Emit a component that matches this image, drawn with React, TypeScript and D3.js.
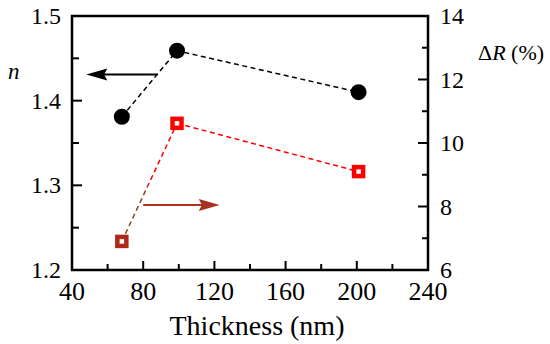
import React from 'react';
import * as d3 from 'd3';

// thickness (nm) and measured values
const thickness = [68, 99, 201];
const nValues = [1.381, 1.459, 1.41];
const dRValues = [6.9, 10.62, 9.1];

const xTicks = [40, 80, 120, 160, 200, 240];
const xMinor = [60, 100, 140, 180, 220];
const nTicks = [1.2, 1.3, 1.4, 1.5];
const nMinor = [1.25, 1.35, 1.45];
const rTicks = [6, 8, 10, 12, 14];
const rMinor = [7, 9, 11, 13];

// arrow annotations [x0, x1, y] in data units
const nArrow = [88, 48, 1.431];
const rArrow = [80, 123, 8.05];

const W = 550;
const H = 344;
const margin = { left: 72, right: 122, top: 16, bottom: 74 };
const font = 'Liberation Serif';

const App = () => {
  const x = d3.scaleLinear().domain([40, 240]).range([margin.left, W - margin.right]);
  const yN = d3.scaleLinear().domain([1.2, 1.5]).range([H - margin.bottom, margin.top]);
  const yR = d3.scaleLinear().domain([6, 14]).range([H - margin.bottom, margin.top]);

  const x0 = x.range()[0];
  const x1 = x.range()[1];
  const yb = yN.range()[0];
  const yt = yN.range()[1];

  const nLine = d3.line<number>().x((d, i) => x(thickness[i])).y(d => yN(d));
  const rLine = d3.line<number>().x((d, i) => x(thickness[i])).y(d => yR(d));
  const rLine2 = d3.line<number>().x((d, i) => x(thickness[i + 1])).y(d => yR(d));

  const arrowHead = (tipX: number, y: number, dir: number, len: number, half: number) =>
    `M${tipX},${y}L${tipX - dir * len},${y - half}L${tipX - dir * len * 0.85},${y}L${tipX - dir * len},${y + half}Z`;

  const nAy = yN(nArrow[2]);
  const rAy = yR(rArrow[2]);
  const txt = { fontFamily: font };

  return (
    <svg width={W} height={H} style={{ position: 'absolute', left: 0, top: 0, background: '#fff', fontFamily: font }}>
      <defs>
        <linearGradient id="redfade" x1="0" y1="1" x2="0" y2="0">
          <stop offset="0" stopColor="#7a4a1a" />
          <stop offset="0.35" stopColor="#8a4020" />
          <stop offset="0.6" stopColor="#ff0000" />
          <stop offset="1" stopColor="#ff0000" />
        </linearGradient>
      </defs>

      {/* frame */}
      <rect x={x0} y={yt} width={x1 - x0} height={yb - yt} fill="none" stroke="#000" strokeWidth={2.5} />

      {/* x ticks */}
      {xTicks.map(t => (
        <g key={'xt' + t}>
          <line x1={x(t)} x2={x(t)} y1={yb} y2={yb - 9} stroke="#000" strokeWidth={2} />
          <text x={x(t)} y={yb + 30} textAnchor="middle" fontSize={26} style={txt}>{t}</text>
        </g>
      ))}
      {xMinor.map(t => (
        <line key={'xm' + t} x1={x(t)} x2={x(t)} y1={yb} y2={yb - 6} stroke="#000" strokeWidth={2} />
      ))}

      {/* left axis n */}
      {nTicks.map(t => (
        <g key={'nt' + t}>
          <line x1={x0} x2={x0 + 10} y1={yN(t)} y2={yN(t)} stroke="#000" strokeWidth={2} />
          <text x={x0 - 11} y={yN(t) + 8} textAnchor="end" fontSize={24} style={txt}>{t.toFixed(1)}</text>
        </g>
      ))}
      {nMinor.map(t => (
        <line key={'nm' + t} x1={x0} x2={x0 + 7} y1={yN(t)} y2={yN(t)} stroke="#000" strokeWidth={2} />
      ))}

      {/* right axis dR */}
      {rTicks.map(t => (
        <g key={'rt' + t}>
          <line x1={x1} x2={x1 - 10} y1={yR(t)} y2={yR(t)} stroke="#000" strokeWidth={2} />
          <text x={x1 + 12} y={yR(t) + 8} textAnchor="start" fontSize={24} style={txt}>{t}</text>
        </g>
      ))}
      {rMinor.map(t => (
        <line key={'rm' + t} x1={x1} x2={x1 - 6} y1={yR(t)} y2={yR(t)} stroke="#000" strokeWidth={2} />
      ))}

      {/* axis titles */}
      <text x={8} y={79} fontSize={23} fontStyle="italic" style={txt}>n</text>
      <text x={478} y={60} fontSize={22} style={txt}>
        Δ<tspan fontStyle="italic">R</tspan> (%)
      </text>
      <text x={(x0 + x1) / 2 + 7} y={335} textAnchor="middle" fontSize={28} style={txt}>Thickness (nm)</text>

      {/* dashed lines */}
      <path d={nLine(nValues) || ''} fill="none" stroke="#000" strokeWidth={1.5} strokeDasharray="5,3.5" />
      <path d={rLine(dRValues.slice(0, 2)) || ''} fill="none" stroke="url(#redfade)" strokeWidth={1.5} strokeDasharray="5,3.5" />
      <path d={rLine2(dRValues.slice(1)) || ''} fill="none" stroke="#ff0000" strokeWidth={1.5} strokeDasharray="5,3.5" />

      {/* arrows */}
      <line x1={x(nArrow[0])} x2={x(nArrow[1]) + 16} y1={nAy} y2={nAy} stroke="#000" strokeWidth={2} />
      <path d={arrowHead(x(nArrow[1]), nAy, -1, 21, 6)} fill="#000" />
      <line x1={x(rArrow[0])} x2={x(rArrow[1]) - 16} y1={rAy} y2={rAy} stroke="#b03020" strokeWidth={2} />
      <path d={arrowHead(x(rArrow[1]), rAy, 1, 21, 6)} fill="#a83020" />

      {/* markers */}
      {nValues.map((v, i) => (
        <circle key={'c' + i} cx={x(thickness[i])} cy={yN(v)} r={8} fill="#000" />
      ))}
      {dRValues.map((v, i) => (
        <rect key={'s' + i} x={x(thickness[i]) - 4.5} y={yR(v) - 4.5} width={9} height={9}
          fill="#fff" stroke={i === 0 ? '#b02818' : '#ff0000'} strokeWidth={4.5} />
      ))}
    </svg>
  );
};

export default App;
